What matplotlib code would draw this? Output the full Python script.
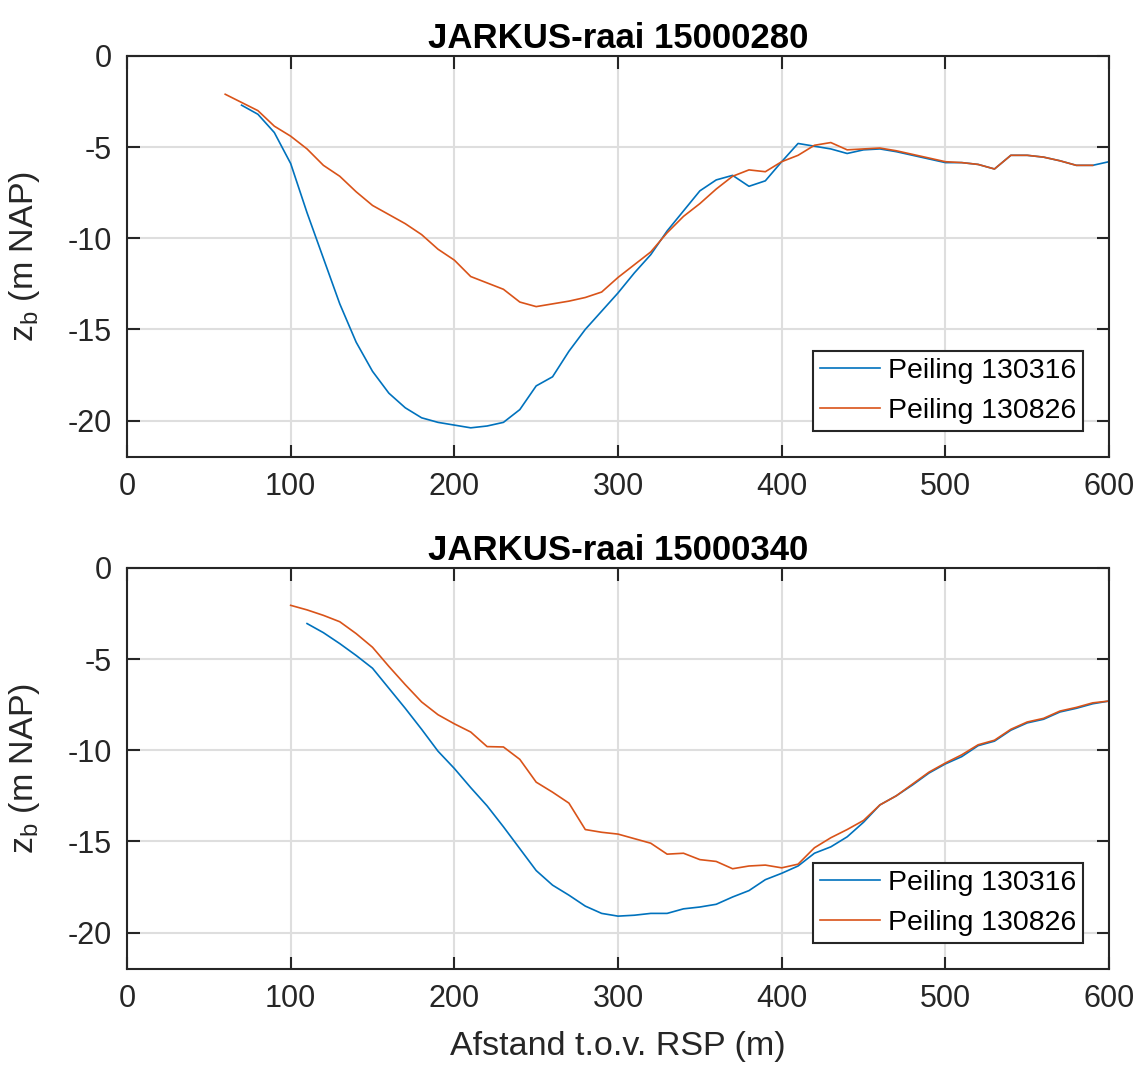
import matplotlib
matplotlib.use("Agg")
import matplotlib.pyplot as plt

plt.rcParams['font.family'] = ['Liberation Sans', 'DejaVu Sans']
plt.rcParams['mathtext.fontset'] = 'custom'
plt.rcParams['mathtext.rm'] = 'Liberation Sans'
plt.rcParams['mathtext.it'] = 'Liberation Sans'
plt.rcParams['axes.unicode_minus'] = False

### Data

# raai 15000280
x_280_mrt = list(range(70, 601, 10))
z_280_mrt = [-2.7, -3.2, -4.2, -5.9, -8.6, -11.1, -13.6, -15.7, -17.3, -18.5,
             -19.3, -19.85, -20.1, -20.25, -20.4, -20.3, -20.1, -19.4, -18.1, -17.6,
             -16.2, -15.0, -14.0, -13.0, -11.9, -10.9, -9.6, -8.5, -7.4, -6.8,
             -6.55, -7.15, -6.85, -5.8, -4.8, -4.95, -5.1, -5.35, -5.15, -5.1,
             -5.25, -5.45, -5.65, -5.85, -5.85, -5.95, -6.2, -5.45, -5.45, -5.55,
             -5.75, -6.0, -6.0, -5.8]
x_280_aug = list(range(60, 591, 10))
z_280_aug = [-2.1, -2.55, -3.0, -3.85, -4.4, -5.1, -6.0, -6.6, -7.45, -8.2,
             -8.7, -9.2, -9.8, -10.6, -11.2, -12.1, -12.45, -12.8, -13.5, -13.75,
             -13.6, -13.45, -13.25, -12.95, -12.15, -11.45, -10.75, -9.7, -8.8, -8.1,
             -7.3, -6.6, -6.25, -6.35, -5.8, -5.45, -4.9, -4.75, -5.15, -5.1,
             -5.05, -5.2, -5.4, -5.6, -5.8, -5.85, -5.95, -6.2, -5.45, -5.45,
             -5.55, -5.75, -6.0, -6.0]

# raai 15000340
x_340_mrt = list(range(110, 601, 10))
z_340_mrt = [-3.05, -3.55, -4.15, -4.8, -5.5, -6.6, -7.7, -8.85, -10.05, -11.0,
             -12.05, -13.05, -14.2, -15.4, -16.6, -17.4, -17.95, -18.55, -18.95, -19.1,
             -19.05, -18.95, -18.95, -18.7, -18.6, -18.45, -18.05, -17.7, -17.1, -16.75,
             -16.35, -15.65, -15.3, -14.75, -13.95, -13.0, -12.5, -11.9, -11.25, -10.75,
             -10.35, -9.75, -9.5, -8.9, -8.5, -8.3, -7.9, -7.7, -7.45, -7.3]
x_340_aug = list(range(100, 601, 10))
z_340_aug = [-2.05, -2.3, -2.6, -2.95, -3.6, -4.35, -5.4, -6.4, -7.35, -8.05,
             -8.55, -9.0, -9.8, -9.82, -10.5, -11.75, -12.3, -12.9, -14.35, -14.5,
             -14.6, -14.85, -15.1, -15.7, -15.65, -16.0, -16.1, -16.5, -16.35, -16.3,
             -16.45, -16.25, -15.35, -14.8, -14.35, -13.85, -13.0, -12.5, -11.85, -11.2,
             -10.7, -10.25, -9.7, -9.45, -8.85, -8.45, -8.25, -7.85, -7.65, -7.4,
             -7.3]

titels = ['JARKUS-raai 15000280', 'JARKUS-raai 15000340']
labels = ['Peiling 130316', 'Peiling 130826']
xticks = [0, 100, 200, 300, 400, 500, 600]
yticks = [-20, -15, -10, -5, 0]

### Plot

blauw = '#0072BD'
oranje = '#D95319'
donker = '#262626'

fig = plt.figure(figsize=(11.39, 10.66), dpi=100)
ax1 = fig.add_axes([0.1115, 0.5713, 0.8622, 0.3762])
ax2 = fig.add_axes([0.1115, 0.0910, 0.8622, 0.3762])

reeksen = [(x_280_mrt, z_280_mrt, x_280_aug, z_280_aug),
           (x_340_mrt, z_340_mrt, x_340_aug, z_340_aug)]

for ax, titel, (xa, za, xb, zb) in zip([ax1, ax2], titels, reeksen):
    ax.plot(xa, za, color=blauw, lw=1.2, label=labels[0])
    ax.plot(xb, zb, color=oranje, lw=1.2, label=labels[1])
    ax.set_xlim(0, 600)
    ax.set_ylim(-22, 0)
    ax.set_xticks(xticks)
    ax.set_yticks(yticks)
    ax.grid(True, color='#dedede', lw=1.5)
    ax.set_axisbelow(True)
    ax.tick_params(direction='in', length=9, width=1.5, colors=donker,
                   labelsize=22, top=True, right=True, pad=11)
    for s in ax.spines.values():
        s.set_color(donker)
        s.set_linewidth(1.5)
    ax.set_title(titel, fontsize=25, fontweight='bold', pad=6)
    ax.set_ylabel('z$_\\mathrm{b}$ (m NAP)', fontsize=24.5, color=donker, labelpad=18)
    leg = ax.legend(loc='lower right', fontsize=20.5, fancybox=False, framealpha=1,
                    edgecolor=donker, handlelength=2.1, handletextpad=0.3,
                    borderaxespad=0.9, labelspacing=0.5, borderpad=0.25)
    leg.get_frame().set_linewidth(1.5)

ax2.set_xlabel('Afstand t.o.v. RSP (m)', fontsize=24.5, color=donker, labelpad=12)

fig.savefig('out.png', dpi=100)
